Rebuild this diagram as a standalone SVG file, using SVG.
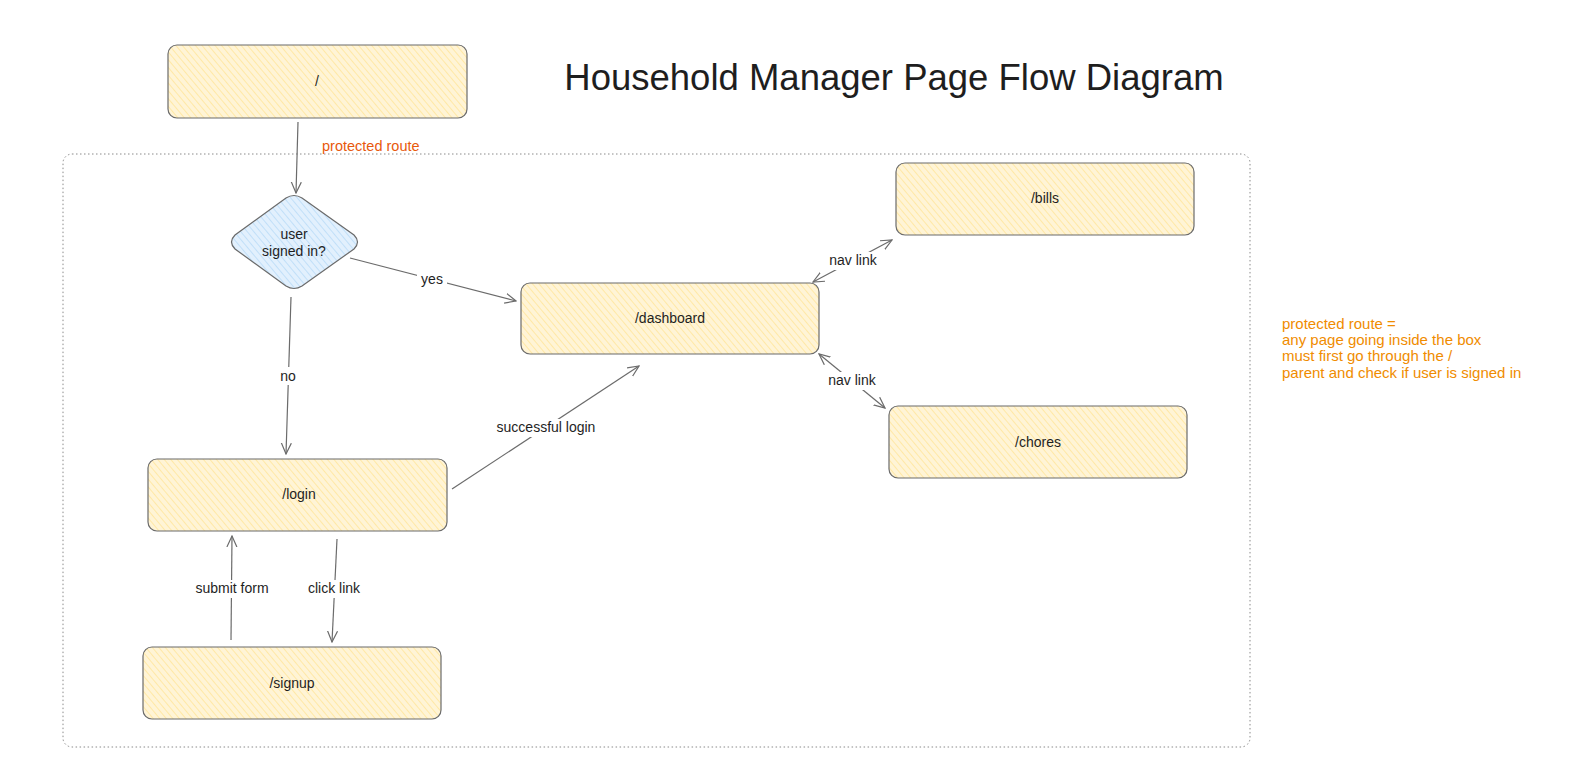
<svg xmlns="http://www.w3.org/2000/svg" width="1571" height="766" viewBox="0 0 1571 766">
<style>
.box{stroke:#6b6b6b;stroke-width:1.2;fill:url(#hy)}
.dia{stroke:#6b6b6b;stroke-width:1.2;fill:url(#hb)}
.t{font-family:"Liberation Sans",Arial,sans-serif;font-size:14px;fill:#1e1e1e;text-anchor:middle}
.lbl{font-family:"Liberation Sans",Arial,sans-serif;font-size:14px;fill:#1e1e1e;text-anchor:middle}
.ln{stroke:#6b6b6b;stroke-width:1.2;fill:none}
.bg{fill:#ffffff}
</style>
<defs>
<pattern id="hy" width="5" height="5" patternUnits="userSpaceOnUse" patternTransform="rotate(-40)">
<rect width="5" height="5" fill="#fff4d6"/>
<line x1="0" y1="0" x2="0" y2="5" stroke="#ffe59a" stroke-width="1.6"/>
</pattern>
<pattern id="hb" width="5" height="5" patternUnits="userSpaceOnUse" patternTransform="rotate(-40)">
<rect width="5" height="5" fill="#e2f0fd"/>
<line x1="0" y1="0" x2="0" y2="5" stroke="#b9dbf7" stroke-width="1.6"/>
</pattern>
<marker id="ah" viewBox="0 0 12 12" refX="11" refY="6" markerWidth="12" markerHeight="12" markerUnits="userSpaceOnUse" orient="auto-start-reverse">
<path d="M0,1 L11,6 L0,11" fill="none" stroke="#6b6b6b" stroke-width="1.2"/>
</marker>
</defs>
<rect width="1571" height="766" fill="#ffffff"/>

<g id="container">
<rect x="63" y="154" width="1187" height="593" rx="9" fill="none" stroke="#8a8a8a" stroke-width="1" stroke-dasharray="1.5 2.5"/>
</g>

<g id="title">
<text x="894" y="90" font-family="Liberation Sans,Arial,sans-serif" font-size="36.5" fill="#1e1e1e" text-anchor="middle">Household Manager Page Flow Diagram</text>
</g>

<g id="connectors">
<line class="ln" x1="298" y1="122" x2="296" y2="193" marker-end="url(#ah)"/>
<line class="ln" x1="350" y1="258" x2="516" y2="301" marker-end="url(#ah)"/>
<line class="ln" x1="291" y1="297" x2="286" y2="454" marker-end="url(#ah)"/>
<line class="ln" x1="452" y1="489" x2="639" y2="366" marker-end="url(#ah)"/>
<line class="ln" x1="813" y1="282" x2="892" y2="240" marker-start="url(#ah)" marker-end="url(#ah)"/>
<line class="ln" x1="819" y1="354" x2="885" y2="408" marker-start="url(#ah)" marker-end="url(#ah)"/>
<line class="ln" x1="231" y1="640" x2="232" y2="536" marker-end="url(#ah)"/>
<line class="ln" x1="337" y1="539" x2="332" y2="642" marker-end="url(#ah)"/>
<rect class="bg" x="417" y="270" width="30" height="18"/>
<text class="lbl" x="432" y="284">yes</text>
<rect class="bg" x="277" y="367" width="24" height="18"/>
<text class="lbl" x="288" y="381">no</text>
<rect class="bg" x="490" y="419" width="112" height="18"/>
<text class="lbl" x="546" y="432">successful login</text>
<rect class="bg" x="824" y="252" width="58" height="18"/>
<text class="lbl" x="853" y="265">nav link</text>
<rect class="bg" x="823" y="372" width="58" height="18"/>
<text class="lbl" x="852" y="385">nav link</text>
<rect class="bg" x="189" y="580" width="86" height="18"/>
<text class="lbl" x="232" y="593">submit form</text>
<rect class="bg" x="304" y="580" width="60" height="18"/>
<text class="lbl" x="334" y="593">click link</text>
</g>

<g id="protected-label">
<text x="322" y="151" font-family="Liberation Sans,Arial,sans-serif" font-size="14.5" fill="#e8590c">protected route</text>
</g>

<g id="node-root">
<rect class="box" x="168" y="45" width="299" height="73" rx="9"/>
<text class="t" x="317" y="86">/</text>
</g>

<g id="node-signedin">
<path class="dia" d="M286,198 Q294,193 302,198 L354,235 Q361,242 354,249 L302,286 Q294,291 286,286 L235,249 Q228,242 235,235 Z"/>
<text class="t" x="294" y="239">user</text>
<text class="t" x="294" y="256">signed in?</text>
</g>

<g id="node-dashboard">
<rect class="box" x="521" y="283" width="298" height="71" rx="9"/>
<text class="t" x="670" y="323">/dashboard</text>
</g>

<g id="node-bills">
<rect class="box" x="896" y="163" width="298" height="72" rx="9"/>
<text class="t" x="1045" y="203">/bills</text>
</g>

<g id="node-chores">
<rect class="box" x="889" y="406" width="298" height="72" rx="9"/>
<text class="t" x="1038" y="447">/chores</text>
</g>

<g id="node-login">
<rect class="box" x="148" y="459" width="299" height="72" rx="9"/>
<text class="t" x="299" y="499">/login</text>
</g>

<g id="node-signup">
<rect class="box" x="143" y="647" width="298" height="72" rx="9"/>
<text class="t" x="292" y="688">/signup</text>
</g>

<g id="note" font-family="Liberation Sans,Arial,sans-serif" font-size="15" fill="#f08c00">
<text x="1282" y="329">protected route =</text>
<text x="1282" y="345">any page going inside the box</text>
<text x="1282" y="361">must first go through the /</text>
<text x="1282" y="378">parent and check if user is signed in</text>
</g>
</svg>
